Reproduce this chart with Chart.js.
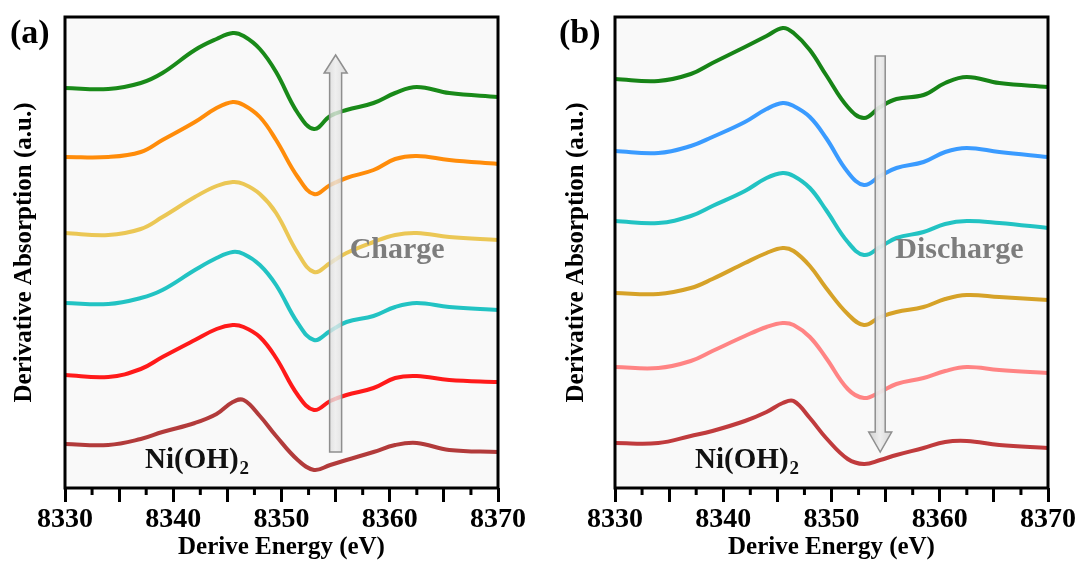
<!DOCTYPE html>
<html>
<head>
<meta charset="utf-8">
<title>Ni K-edge derivative spectra</title>
<script src="https://cdn.jsdelivr.net/npm/chart.js@4.4.1/dist/chart.umd.min.js"></script>
<style>
  body { margin: 0; background: #fff; }
  .panel { position: absolute; top: 0; height: 565px; }
  #panelA { left: 0; width: 541px; }
  #panelB { left: 541px; width: 542px; }
</style>
</head>
<body>
<div class="panel" id="panelA"><canvas id="chartA"></canvas></div>
<div class="panel" id="panelB"><canvas id="chartB"></canvas></div>
<script>
// energy grid (eV) shared by every spectrum
const energy = [8330, 8334, 8337, 8339, 8342, 8344, 8345.5, 8346.5, 8348, 8349.5,
                8351.5, 8353, 8354.5, 8356, 8358.5, 8360.5, 8362.5, 8365.5, 8370];
const energyTicks = [8330, 8340, 8350, 8360, 8370];
const minorTicks = [8332.5, 8337.5, 8342.5, 8347.5, 8352.5, 8357.5, 8362.5, 8367.5];

// (a) charge, bottom to top (stacked, a.u.)
const chargeNiOH2  = [0.44, 0.43, 0.49, 0.56, 0.65, 0.74, 0.86, 0.88, 0.72, 0.52, 0.28, 0.18, 0.23, 0.28, 0.36, 0.43, 0.45, 0.38, 0.36];
const chargeRed    = [1.13, 1.11, 1.19, 1.31, 1.48, 1.59, 1.63, 1.61, 1.51, 1.30, 0.93, 0.78, 0.87, 0.93, 1.00, 1.10, 1.12, 1.08, 1.06];
const chargeCyan   = [1.85, 1.84, 1.90, 1.98, 2.18, 2.30, 2.36, 2.34, 2.23, 2.03, 1.65, 1.48, 1.57, 1.66, 1.72, 1.81, 1.85, 1.81, 1.78];
const chargeYellow = [2.55, 2.53, 2.59, 2.71, 2.91, 3.02, 3.06, 3.04, 2.94, 2.75, 2.35, 2.16, 2.25, 2.35, 2.46, 2.53, 2.55, 2.51, 2.48];
const chargeOrange = [3.31, 3.31, 3.36, 3.48, 3.66, 3.80, 3.86, 3.83, 3.71, 3.48, 3.11, 2.94, 3.03, 3.10, 3.18, 3.29, 3.32, 3.28, 3.24];
const chargeGreen  = [4.00, 3.99, 4.05, 4.15, 4.38, 4.49, 4.55, 4.52, 4.39, 4.16, 3.75, 3.59, 3.72, 3.78, 3.85, 3.95, 4.01, 3.95, 3.91];

// (b) discharge, bottom to top
const dischargeNiOH2 = [0.45, 0.45, 0.52, 0.57, 0.67, 0.76, 0.85, 0.87, 0.70, 0.50, 0.29, 0.24, 0.28, 0.33, 0.40, 0.46, 0.47, 0.43, 0.40];
const dischargePink  = [1.21, 1.20, 1.27, 1.37, 1.52, 1.61, 1.65, 1.63, 1.51, 1.30, 0.99, 0.90, 0.96, 1.04, 1.10, 1.17, 1.21, 1.18, 1.15];
const dischargeGold  = [1.95, 1.94, 2.00, 2.09, 2.25, 2.35, 2.40, 2.37, 2.22, 2.00, 1.74, 1.63, 1.71, 1.76, 1.81, 1.89, 1.93, 1.91, 1.88];
const dischargeCyan  = [2.67, 2.65, 2.72, 2.82, 2.97, 3.10, 3.15, 3.12, 3.00, 2.78, 2.46, 2.33, 2.41, 2.50, 2.56, 2.64, 2.67, 2.65, 2.60];
const dischargeBlue  = [3.37, 3.35, 3.42, 3.51, 3.66, 3.79, 3.85, 3.82, 3.71, 3.50, 3.16, 3.03, 3.12, 3.20, 3.26, 3.36, 3.40, 3.36, 3.31];
const dischargeGreen = [4.09, 4.07, 4.14, 4.25, 4.41, 4.52, 4.60, 4.55, 4.38, 4.13, 3.81, 3.70, 3.81, 3.89, 3.93, 4.05, 4.11, 4.05, 4.01];

const SERIF = '"Liberation Serif", "Times New Roman", serif';

function drawArrow(ctx, x, yTail, yTip, shaftW, headW, headLen, alpha) {
  const dir = yTip < yTail ? -1 : 1;
  const yBase = yTip - dir * headLen;
  ctx.save();
  ctx.beginPath();
  ctx.moveTo(x - shaftW / 2, yTail);
  ctx.lineTo(x - shaftW / 2, yBase);
  ctx.lineTo(x - headW / 2, yBase);
  ctx.lineTo(x, yTip);
  ctx.lineTo(x + headW / 2, yBase);
  ctx.lineTo(x + shaftW / 2, yBase);
  ctx.lineTo(x + shaftW / 2, yTail);
  ctx.closePath();
  const g = ctx.createLinearGradient(x - headW / 2, 0, x + headW / 2, 0);
  g.addColorStop(0, 'rgba(205,205,205,' + alpha + ')');
  g.addColorStop(0.5, 'rgba(236,236,236,' + alpha + ')');
  g.addColorStop(1, 'rgba(210,210,210,' + alpha + ')');
  ctx.fillStyle = g;
  ctx.fill();
  ctx.lineWidth = 1.5;
  ctx.strokeStyle = '#8f8f8f';
  ctx.stroke();
  ctx.restore();
}

function decorations(p) {
  return {
    id: 'decorations',
    beforeDraw(chart) {
      const { ctx, chartArea: a } = chart;
      ctx.save();
      ctx.fillStyle = '#f9f9f9';
      ctx.fillRect(a.left, a.top, a.right - a.left, a.bottom - a.top);
      ctx.restore();
    },
    afterDatasetsDraw(chart) {
      const { ctx } = chart;
      const xs = chart.scales.x, ys = chart.scales.y;
      drawArrow(ctx, xs.getPixelForValue(p.arrow.x), ys.getPixelForValue(p.arrow.from),
        ys.getPixelForValue(p.arrow.to), p.arrow.shaft, 23, p.arrow.head, p.arrow.alpha);

      ctx.save();
      ctx.textBaseline = 'alphabetic';
      ctx.textAlign = 'left';
      ctx.fillStyle = '#7d7d7d';
      ctx.font = 'bold 30px ' + SERIF;
      ctx.fillText(p.note.text, xs.getPixelForValue(p.note.x), ys.getPixelForValue(p.note.y));

      // Ni(OH)2 label with subscript
      ctx.fillStyle = '#111';
      ctx.font = 'bold 29px ' + SERIF;
      const lx = xs.getPixelForValue(8337.4), ly = ys.getPixelForValue(0.2);
      ctx.fillText('Ni(OH)', lx, ly);
      const w = ctx.measureText('Ni(OH)').width;
      ctx.font = 'bold 19px ' + SERIF;
      ctx.fillText('2', lx + w + 1, ly + 6);
      ctx.restore();
    },
    afterDraw(chart) {
      const { ctx, chartArea: a } = chart;
      const xs = chart.scales.x;
      ctx.save();
      ctx.strokeStyle = '#000';
      ctx.lineWidth = 3;
      ctx.strokeRect(a.left, a.top, a.right - a.left, a.bottom - a.top);
      ctx.beginPath();
      minorTicks.forEach(e => {
        const x = xs.getPixelForValue(e);
        ctx.moveTo(x, a.bottom);
        ctx.lineTo(x, a.bottom + 7);
      });
      ctx.stroke();
      ctx.fillStyle = '#000';
      ctx.font = 'bold 34px ' + SERIF;
      ctx.textBaseline = 'alphabetic';
      ctx.fillText(p.tag, p.tagX, 43);
      ctx.restore();
    }
  };
}

function panelConfig(p) {
  return {
    type: 'line',
    data: {
      datasets: p.series.map((vals, i) => ({
        data: vals.map((v, j) => ({ x: energy[j], y: v })),
        borderColor: p.colors[i],
        borderWidth: 4,
        pointRadius: 0,
        tension: 0.4,
        fill: false
      }))
    },
    options: {
      responsive: true,
      maintainAspectRatio: false,
      animation: false,
      events: [],
      layout: { padding: { top: 17, right: p.padRight, bottom: 0, left: 0 } },
      plugins: { legend: { display: false }, tooltip: { enabled: false } },
      scales: {
        x: {
          type: 'linear',
          min: 8330,
          max: 8370,
          afterFit: s => { s.height = 77; },
          border: { display: false },
          grid: { drawOnChartArea: false, drawTicks: true, tickLength: 14, tickWidth: 3, tickColor: '#000' },
          ticks: {
            stepSize: 5,
            autoSkip: false,
            maxRotation: 0,
            padding: 1,
            color: '#000',
            font: { family: SERIF, size: 28, weight: 'bold' },
            callback: v => energyTicks.includes(v) ? String(v) : ''
          },
          title: {
            display: true,
            text: 'Derive Energy (eV)',
            color: '#000',
            font: { family: SERIF, size: 25, weight: 'bold' },
            padding: { top: 0, bottom: 2 }
          }
        },
        y: {
          min: 0,
          max: 4.71,
          afterFit: s => { s.width = p.axisWidth; },
          border: { display: false },
          grid: { display: false },
          ticks: { display: false },
          title: {
            display: true,
            text: 'Derivative Absorption (a.u.)',
            color: '#000',
            font: { family: SERIF, size: 25, weight: 'bold' },
            padding: { top: p.yTitlePad, bottom: 0 }
          }
        }
      }
    },
    plugins: [decorations(p)]
  };
}

new Chart(document.getElementById('chartA'), panelConfig({
  series: [chargeNiOH2, chargeRed, chargeCyan, chargeYellow, chargeOrange, chargeGreen],
  colors: ['#b23b3b', '#ff1a1a', '#22c3c3', '#ebc755', '#ff8c0a', '#198a19'],
  axisWidth: 65,
  padRight: 43,
  yTitlePad: 10,
  tag: '(a)',
  tagX: 10,
  arrow: { x: 8355, from: 0.36, to: 4.33, shaft: 12, head: 18, alpha: 0.78 },
  note: { text: 'Charge', x: 8356.3, y: 2.30 }
}));

new Chart(document.getElementById('chartB'), panelConfig({
  series: [dischargeNiOH2, dischargePink, dischargeGold, dischargeCyan, dischargeBlue, dischargeGreen],
  colors: ['#c03b3d', '#ff8484', '#d6a228', '#22c3c3', '#3a9bff', '#178417'],
  axisWidth: 74,
  padRight: 35,
  yTitlePad: 21,
  tag: '(b)',
  tagX: 18,
  arrow: { x: 8354.5, from: 4.32, to: 0.36, shaft: 10, head: 20, alpha: 0.92 },
  note: { text: 'Discharge', x: 8355.9, y: 2.30 }
}));
</script>
</body>
</html>
